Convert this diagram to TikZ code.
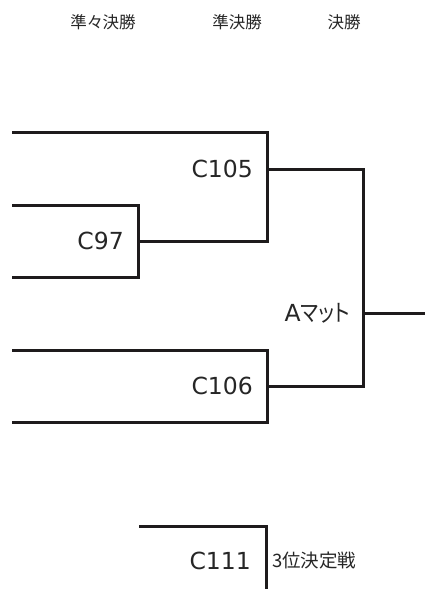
\documentclass[tikz,border=0pt]{standalone}
\usepackage{fontspec}
\usepackage{graphicx}
\usetikzlibrary{positioning}
\setmainfont{DejaVu Sans}
\newfontfamily\jpfont[RawFeature=+palt]{Noto Sans CJK JP}
\definecolor{line}{RGB}{30,27,28}
\definecolor{txt}{RGB}{38,38,38}
\tikzset{
  bracket/.style={line width=3pt, line, line join=miter},
  matchlbl/.style={text=txt, font=\fontsize{23.5}{23.5}\selectfont, inner sep=0pt},
  roundlbl/.style={text=txt, font=\jpfont\fontsize{16.5}{16.5}\selectfont, inner sep=0pt}
}

\begin{document}
\begin{tikzpicture}[x=1pt, y=-1pt]
    \useasboundingbox (0,0) rectangle (425,589);

    % Round headers
    \foreach \name/\xpos/\txt in {qf/103/準々決勝, sf/237/準決勝, fin/344/決勝}
        \node[roundlbl] (\name) at (\xpos,22) {\txt};

    % Entry points
    \coordinate (e1) at (12,132);
    \coordinate (e2) at (12,205);
    \coordinate (e3) at (12,277);
    \coordinate (e4) at (12,350);
    \coordinate (e5) at (12,422);
    \coordinate (e6) at (139,526);

    % Match points
    \coordinate (m97) at (138,241);
    \coordinate (j105) at (267,241);
    \coordinate (m105) at (267,169);
    \coordinate (m106) at (267,386);
    \coordinate (jfin) at (363,386);
    \coordinate (mfin) at (363,313);
    \coordinate (out) at (425,313);
    \coordinate (m111) at (266,561);
    \coordinate (b111) at (266,589);

    % Draw brackets
    \draw[bracket] (e1) -| (j105) -- (m97);
    \draw[bracket] (e2) -| (m97 |- e3) -- (e3);
    \draw[bracket] (e4) -| (m106 |- e5) -- (e5);
    \draw[bracket] (m105) -| (jfin) -- (m106);
    \draw[bracket] (mfin) -- (out);
    \draw[bracket] (e6) -| (b111);

    % Match labels
    \node[matchlbl, left=14pt of m105] (l105) {C105};
    \node[matchlbl, left=14pt of m97] (l97) {C97};
    \node[matchlbl, left=14pt of m106] (l106) {C106};
    \node[matchlbl, left=15pt of m111] (l111) {C111};
    \node[matchlbl, left=13pt of mfin] (lfin) {A\scalebox{0.85}[1]{\jpfont\fontsize{23.5}{23.5}\selectfont マット}};
    \node[roundlbl, right=6pt of m111, font=\jpfont\fontsize{18.5}{18.5}\selectfont, anchor=west] (l3rd) {3位決定戦};

\end{tikzpicture}
\end{document}
